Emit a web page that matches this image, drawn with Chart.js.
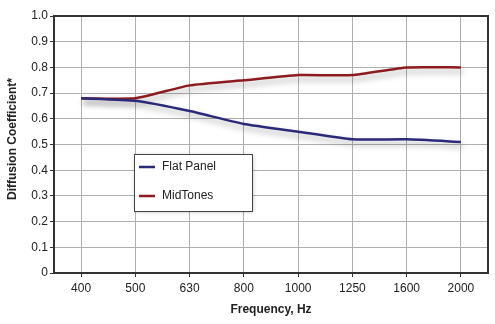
<!DOCTYPE html>
<html>
<head>
<meta charset="utf-8">
<script src="https://cdn.jsdelivr.net/npm/chart.js@4.4.1/dist/chart.umd.min.js"></script>
<style>
  html, body { margin: 0; padding: 0; background: #fff; }
  #wrap { width: 495px; height: 324px; position: relative; }
</style>
</head>
<body>
<div id="wrap"><canvas id="chart"></canvas></div>
<script>
const frequencies = ['400', '500', '630', '800', '1000', '1250', '1600', '2000'];
const flatPanel = [0.68, 0.67, 0.63, 0.58, 0.55, 0.52, 0.52, 0.51];
const midTones = [0.68, 0.68, 0.73, 0.75, 0.77, 0.77, 0.80, 0.80];
const seriesNames = ['Flat Panel', 'MidTones'];
const yTitle = 'Diffusion Coefficient*';

const navy = '#2b2a78';
const darkRed = '#8c1b1f';
const fontFamily = '"Liberation Sans", Arial, sans-serif';

// soft drop shadow under the lines
const shadowPlugin = {
    id: 'lineShadow',
    beforeDatasetsDraw(chart) {
        const ctx = chart.ctx;
        ctx.save();
        ctx.shadowColor = 'rgba(0,0,0,0.35)';
        ctx.shadowBlur = 6;
        ctx.shadowOffsetX = 2;
        ctx.shadowOffsetY = 4;
    },
    afterDatasetsDraw(chart) {
        chart.ctx.restore();
    }
};

// dark frame round the plot, y title, boxed legend
const framePlugin = {
    id: 'frameAndLegend',
    afterDraw(chart) {
        const ctx = chart.ctx;
        const a = chart.chartArea;
        ctx.save();
        ctx.strokeStyle = '#333';
        ctx.lineWidth = 2;
        ctx.beginPath();
        ctx.moveTo(a.left, a.top);
        ctx.lineTo(a.right, a.top);
        ctx.lineTo(a.right, a.bottom);
        ctx.stroke();

        // y axis title
        ctx.save();
        ctx.translate(13, 139);
        ctx.rotate(-Math.PI / 2);
        ctx.font = 'bold 12px ' + fontFamily;
        ctx.fillStyle = '#222';
        ctx.textAlign = 'center';
        ctx.textBaseline = 'middle';
        ctx.fillText(yTitle, 0, 0);
        ctx.restore();

        // legend box
        const bx = 134, by = 154, bw = 118, bh = 57;
        ctx.shadowColor = 'rgba(0,0,0,0.25)';
        ctx.shadowBlur = 4;
        ctx.shadowOffsetX = 1;
        ctx.shadowOffsetY = 1;
        ctx.fillStyle = '#fff';
        ctx.fillRect(bx, by, bw, bh);
        ctx.shadowColor = 'transparent';
        ctx.strokeStyle = '#444';
        ctx.lineWidth = 1;
        ctx.strokeRect(bx + 0.5, by + 0.5, bw, bh);

        ctx.font = '12px ' + fontFamily;
        ctx.textBaseline = 'middle';
        ctx.fillStyle = '#222';
        chart.data.datasets.forEach((ds, i) => {
            const y = 167 + i * 29;
            ctx.strokeStyle = ds.borderColor;
            ctx.lineWidth = 2.5;
            ctx.beginPath();
            ctx.moveTo(139, y);
            ctx.lineTo(155, y);
            ctx.stroke();
            ctx.fillText(ds.label, 162, y);
        });
        ctx.restore();
    }
};

new Chart(document.getElementById('chart'), {
    type: 'line',
    data: {
        labels: frequencies,
        datasets: [
            {
                label: seriesNames[0],
                data: flatPanel,
                borderColor: navy,
                borderWidth: 2.5,
                pointRadius: 0,
                tension: 0.15,
                fill: false
            },
            {
                label: seriesNames[1],
                data: midTones,
                borderColor: darkRed,
                borderWidth: 2.5,
                pointRadius: 0,
                tension: 0.15,
                fill: false
            }
        ]
    },
    options: {
        responsive: true,
        maintainAspectRatio: false,
        animation: false,
        layout: { padding: { top: 16, right: 7, left: 0, bottom: 0 } },
        plugins: {
            legend: { display: false },
            tooltip: { enabled: false }
        },
        scales: {
            x: {
                offset: true,
                afterFit(scale) { scale.height = 51; },
                grid: { color: '#b0b0b0', lineWidth: 1, tickColor: '#333', tickLength: 4, offset: false },
                border: { color: '#333', width: 2 },
                ticks: { color: '#222', font: { family: fontFamily, size: 12 }, padding: 4, maxRotation: 0 },
                title: {
                    display: true,
                    text: 'Frequency, Hz',
                    color: '#222',
                    font: { family: fontFamily, size: 12, weight: 'bold' },
                    padding: { top: 2, bottom: 7 }
                }
            },
            y: {
                min: 0,
                max: 1,
                afterFit(scale) { scale.width = 54; },
                grid: { color: '#b0b0b0', lineWidth: 1, tickColor: '#333', tickLength: 4 },
                border: { color: '#333', width: 2 },
                ticks: {
                    stepSize: 0.1,
                    color: '#222',
                    font: { family: fontFamily, size: 12 },
                    padding: 2,
                    callback: v => (v === 0 ? '0' : v.toFixed(1))
                }
            }
        }
    },
    plugins: [shadowPlugin, framePlugin]
});
</script>
</body>
</html>
